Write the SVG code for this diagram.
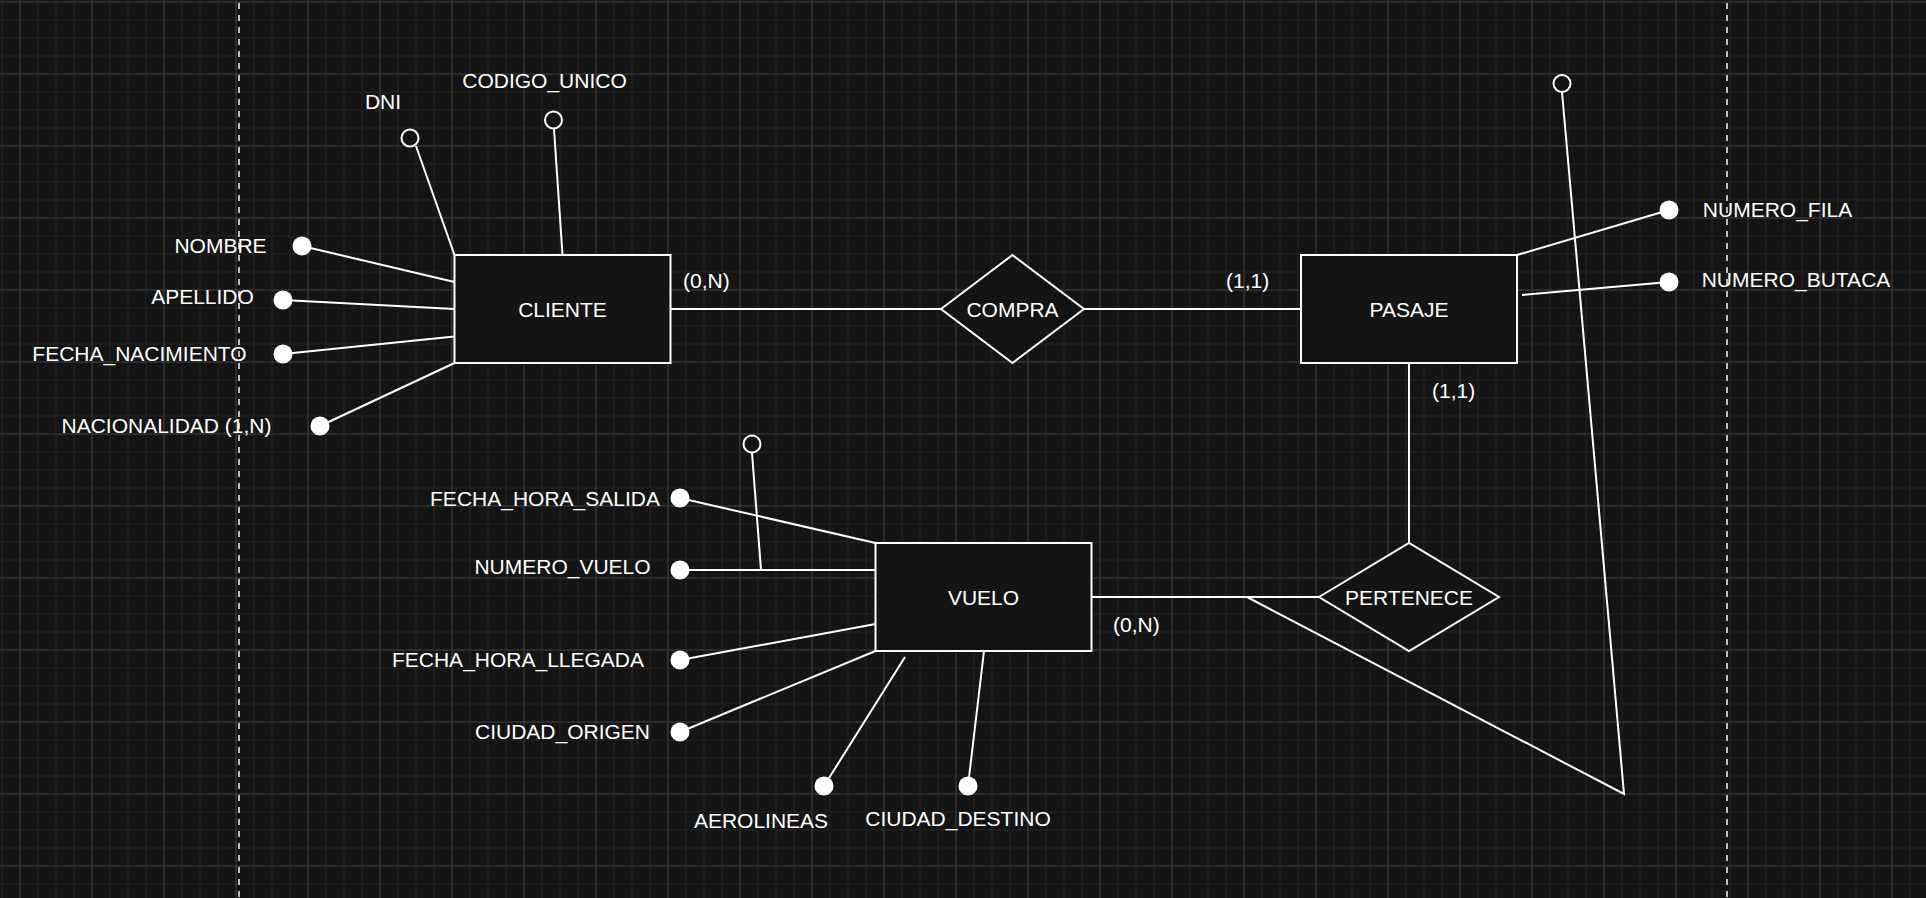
<svg xmlns="http://www.w3.org/2000/svg" width="1926" height="898" viewBox="0 0 1926 898">
<defs>
<pattern id="minor" x="1" y="1" width="18" height="18" patternUnits="userSpaceOnUse"><path d="M1 0V18M0 1H18" stroke="#1c1c1c" stroke-width="2" fill="none"/></pattern>
<pattern id="major" x="19.5" y="1.5" width="72" height="72" patternUnits="userSpaceOnUse"><path d="M0.5 0V72M0 0.5H72" stroke="#3b3b3b" stroke-width="1" fill="none"/></pattern>
<style>
.t{font-family:"Liberation Sans",Arial,Helvetica,sans-serif;font-size:21px;fill:#ffffff}
.m{text-anchor:middle}
.box{fill:#141414;stroke:#ffffff;stroke-width:2}
.dot{fill:#ffffff}
.key{fill:#141414;stroke:#ffffff;stroke-width:2}
.ln{stroke:#ffffff;stroke-width:2;fill:none}
.dash{stroke:#bdbdbd;stroke-width:2;stroke-dasharray:6 6}
</style>
</defs>
<rect width="1926" height="898" fill="#141414"/>
<rect width="1926" height="898" fill="url(#minor)"/>
<rect width="1926" height="898" fill="url(#major)"/>
<line class="dash" x1="239" y1="3" x2="239" y2="898"/>
<line class="dash" x1="1727" y1="3" x2="1727" y2="898"/>

<g id="connectors">
<line class="ln" x1="671" y1="309" x2="941" y2="309"/>
<line class="ln" x1="1084" y1="309" x2="1301" y2="309"/>
<line class="ln" x1="1409" y1="363" x2="1409" y2="543"/>
<line class="ln" x1="1092" y1="597" x2="1319" y2="597"/>
<polyline class="ln" points="1247,597 1624,794 1562,92"/>
<line class="ln" x1="416" y1="146" x2="454.5" y2="255"/>
<line class="ln" x1="554" y1="129" x2="562.5" y2="255"/>
<line class="ln" x1="302" y1="246" x2="454.5" y2="282"/>
<line class="ln" x1="283" y1="300" x2="454.5" y2="309"/>
<line class="ln" x1="283" y1="354" x2="454.5" y2="336.5"/>
<line class="ln" x1="320" y1="426" x2="454.5" y2="363"/>
<line class="ln" x1="1669" y1="210" x2="1517" y2="255"/>
<line class="ln" x1="1669" y1="282" x2="1522" y2="295"/>
<line class="ln" x1="680" y1="498" x2="875.5" y2="543"/>
<line class="ln" x1="680" y1="570" x2="875.5" y2="570"/>
<line class="ln" x1="752" y1="453" x2="761" y2="570"/>
<line class="ln" x1="680" y1="660" x2="875.5" y2="624"/>
<line class="ln" x1="680" y1="732" x2="875.5" y2="651"/>
<line class="ln" x1="824" y1="786" x2="905" y2="657"/>
<line class="ln" x1="968" y1="786" x2="984" y2="651"/>
<text class="t" x="683" y="288">(0,N)</text>
<text class="t" x="1226" y="288">(1,1)</text>
<text class="t" x="1432" y="398">(1,1)</text>
<text class="t" x="1113" y="632">(0,N)</text>
</g>

<g id="cliente"><rect class="box" x="454.5" y="255" width="216" height="108"/><text class="t m" x="562.5" y="316.5">CLIENTE</text></g>
<g id="compra"><polygon class="box" points="941,309 1012.5,255 1084,309 1012.5,363"/><text class="t m" x="1012.5" y="316.5">COMPRA</text></g>
<g id="pasaje"><rect class="box" x="1301" y="255" width="216" height="108"/><text class="t m" x="1409" y="316.5">PASAJE</text></g>
<g id="vuelo"><rect class="box" x="875.5" y="543" width="216" height="108"/><text class="t m" x="983.5" y="604.5">VUELO</text></g>
<g id="pertenece"><polygon class="box" points="1319,597 1409,543 1499,597 1409,651" /><text class="t m" x="1409" y="604.5">PERTENECE</text></g>

<g id="attr-dni"><circle class="key" cx="410" cy="138" r="8.5"/><text class="t m" x="383" y="109">DNI</text></g>
<g id="attr-codigo-unico"><circle class="key" cx="553.5" cy="120" r="8.5"/><text class="t m" x="544.5" y="88">CODIGO_UNICO</text></g>
<g id="attr-nombre"><circle class="dot" cx="302" cy="246" r="9.5"/><text class="t m" x="220.5" y="253">NOMBRE</text></g>
<g id="attr-apellido"><circle class="dot" cx="283" cy="300" r="9.5"/><text class="t m" x="202.5" y="304">APELLIDO</text></g>
<g id="attr-fecha-nacimiento"><circle class="dot" cx="283" cy="354" r="9.5"/><text class="t m" x="139.5" y="361">FECHA_NACIMIENTO</text></g>
<g id="attr-nacionalidad"><circle class="dot" cx="320" cy="426" r="9.5"/><text class="t m" x="166.5" y="433">NACIONALIDAD (1,N)</text></g>
<g id="attr-pasaje-key"><circle class="key" cx="1562" cy="83.5" r="8.5"/></g>
<g id="attr-numero-fila"><circle class="dot" cx="1669" cy="210" r="9.5"/><text class="t m" x="1777.5" y="217">NUMERO_FILA</text></g>
<g id="attr-numero-butaca"><circle class="dot" cx="1669" cy="282" r="9.5"/><text class="t m" x="1796" y="287">NUMERO_BUTACA</text></g>
<g id="attr-vuelo-key"><circle class="key" cx="752" cy="444" r="8.5"/></g>
<g id="attr-fecha-hora-salida"><circle class="dot" cx="680" cy="498" r="9.5"/><text class="t m" x="545" y="506">FECHA_HORA_SALIDA</text></g>
<g id="attr-numero-vuelo"><circle class="dot" cx="680" cy="570" r="9.5"/><text class="t m" x="562.5" y="574">NUMERO_VUELO</text></g>
<g id="attr-fecha-hora-llegada"><circle class="dot" cx="680" cy="660" r="9.5"/><text class="t m" x="518" y="667">FECHA_HORA_LLEGADA</text></g>
<g id="attr-ciudad-origen"><circle class="dot" cx="680" cy="732" r="9.5"/><text class="t m" x="562.5" y="739">CIUDAD_ORIGEN</text></g>
<g id="attr-aerolineas"><circle class="dot" cx="824" cy="786" r="9.5"/><text class="t m" x="761" y="828">AEROLINEAS</text></g>
<g id="attr-ciudad-destino"><circle class="dot" cx="968" cy="786" r="9.5"/><text class="t m" x="958" y="826">CIUDAD_DESTINO</text></g>
</svg>
